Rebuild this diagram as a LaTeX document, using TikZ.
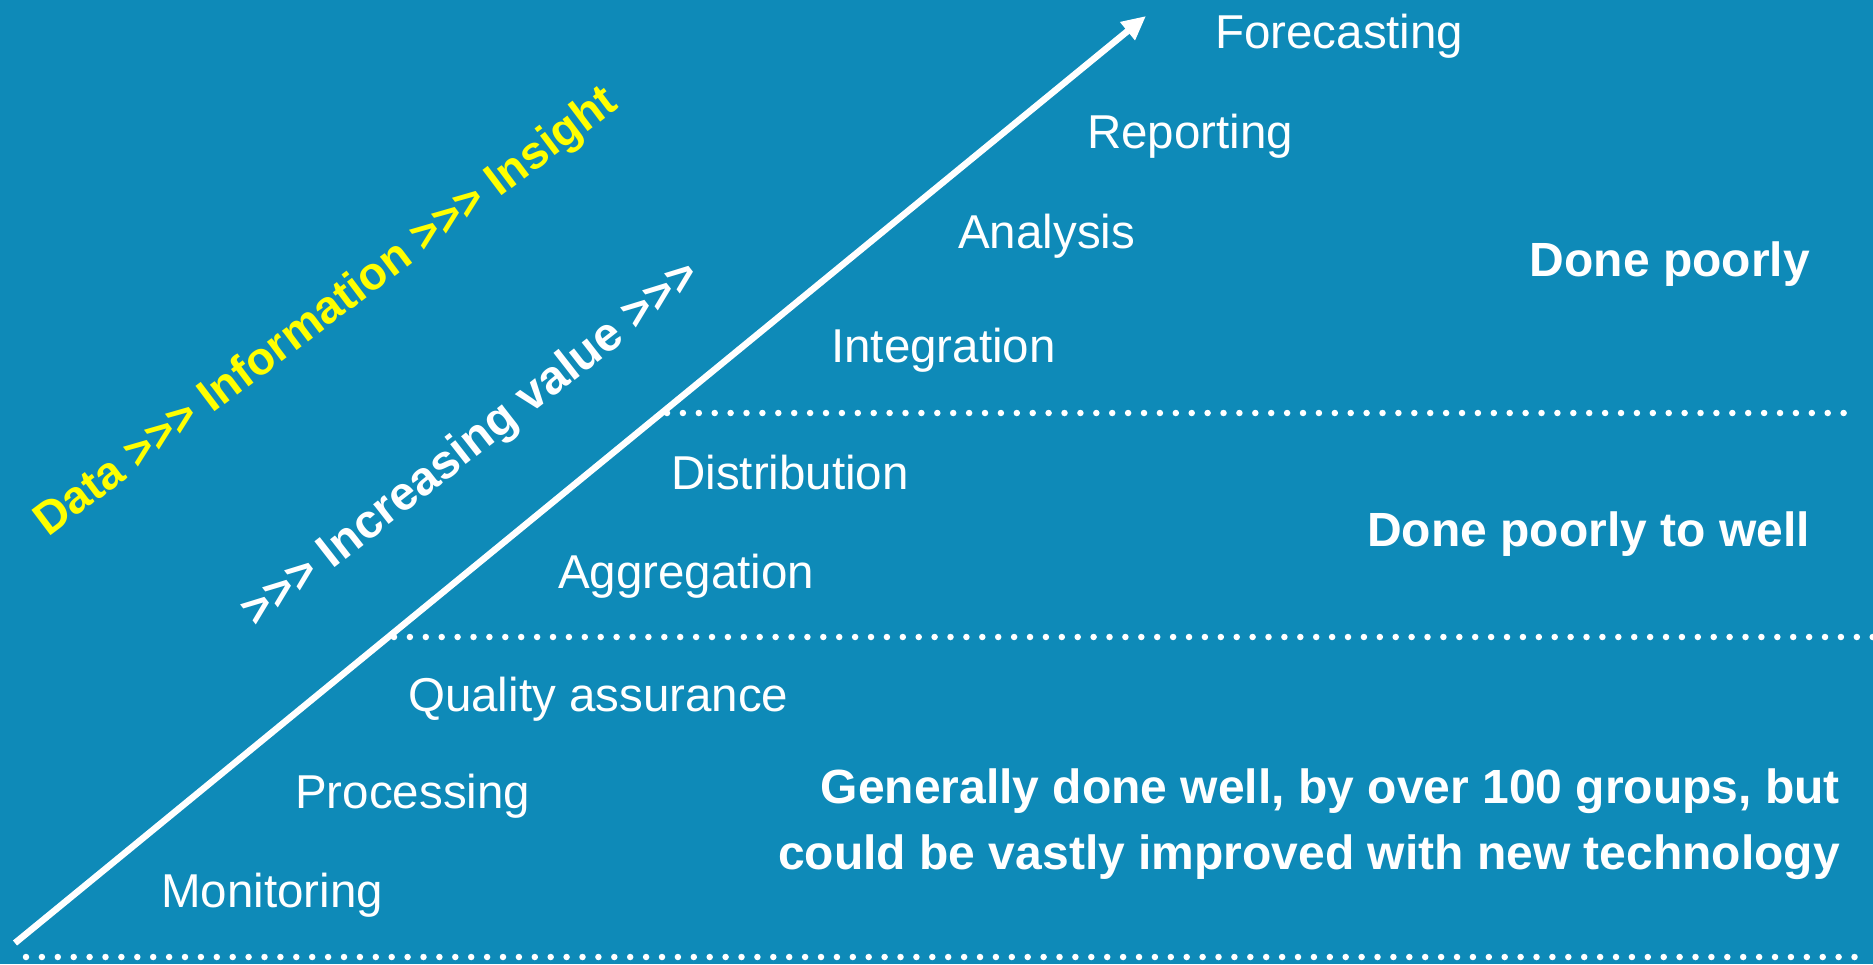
\documentclass[tikz,border=0pt]{standalone}
\usepackage{fontspec}
\setmainfont{Liberation Sans}
\usetikzlibrary{arrows.meta}
\definecolor{bgblue}{RGB}{14,138,184}
\definecolor{ylw}{RGB}{255,255,0}
\newcommand{\gtt}{>{}>{}>}
\tikzset{
  stage/.style={anchor=base west, text=white, inner sep=0pt, font=\fontsize{47.5}{56}\selectfont},
  verdict/.style={anchor=base east, text=white, inner sep=0pt, align=right, font=\fontsize{48}{65.5}\selectfont\bfseries},
  dotline/.style={white, line width=6.5pt, line cap=round, dash pattern=on 0pt off 15.9pt},
  slanted/.style={inner sep=0pt, font=\fontsize{46}{56}\selectfont\bfseries}
}
\begin{document}
\begin{tikzpicture}[x=1pt,y=-1pt]
\fill[bgblue] (0,0) rectangle (1873,964);
\useasboundingbox (0,0) rectangle (1873,964);
% dotted separators
\coordinate (d1a) at (667,413); \coordinate (d1b) at (1858,413);
\coordinate (d2a) at (394,637); \coordinate (d2b) at (1873,637);
\coordinate (d3a) at (26,957); \coordinate (d3b) at (1855,957);
\draw[dotline] (d1a) -- (d1b);
\draw[dotline] (d2a) -- (d2b);
\draw[dotline] (d3a) -- (d3b);
% main arrow
\coordinate (arrS) at (15,943);
\coordinate (arrE) at (1146,16);
\draw[white, line width=6.5pt, -{Triangle[length=24pt,width=22pt]}] (arrS) -- (arrE);
% stages
\node[stage] (fore) at (1215,48) {Forecasting};
\node[stage] (rep) at (1087,148) {Reporting};
\node[stage] (ana) at (958,248) {Analysis};
\node[stage] (integ) at (831,362) {Integration};
\node[stage] (dist) at (671,489) {Distribution};
\node[stage] (agg) at (558,588) {Aggregation};
\node[stage] (qa) at (408,711) {Quality assurance};
\node[stage] (proc) at (295,808) {Processing};
\node[stage] (mon) at (161,907) {Monitoring};
% verdicts
\node[verdict] (v1) at (1810,276) {Done poorly};
\node[verdict] (v2) at (1810,546) {Done poorly to well};
\node[verdict] (v3) at (1840,869) {Generally done well, by over 100 groups, but\\could be vastly improved with new technology};
% slanted labels
\node[slanted, text=ylw, rotate=37] (dii) at (327,313) {Data \gtt{} Information \gtt{} Insight};
\node[slanted, text=white, rotate=38, font=\fontsize{47.5}{56}\selectfont\bfseries] (inc) at (472,445) {\gtt{} Increasing value \gtt};
\end{tikzpicture}
\end{document}
